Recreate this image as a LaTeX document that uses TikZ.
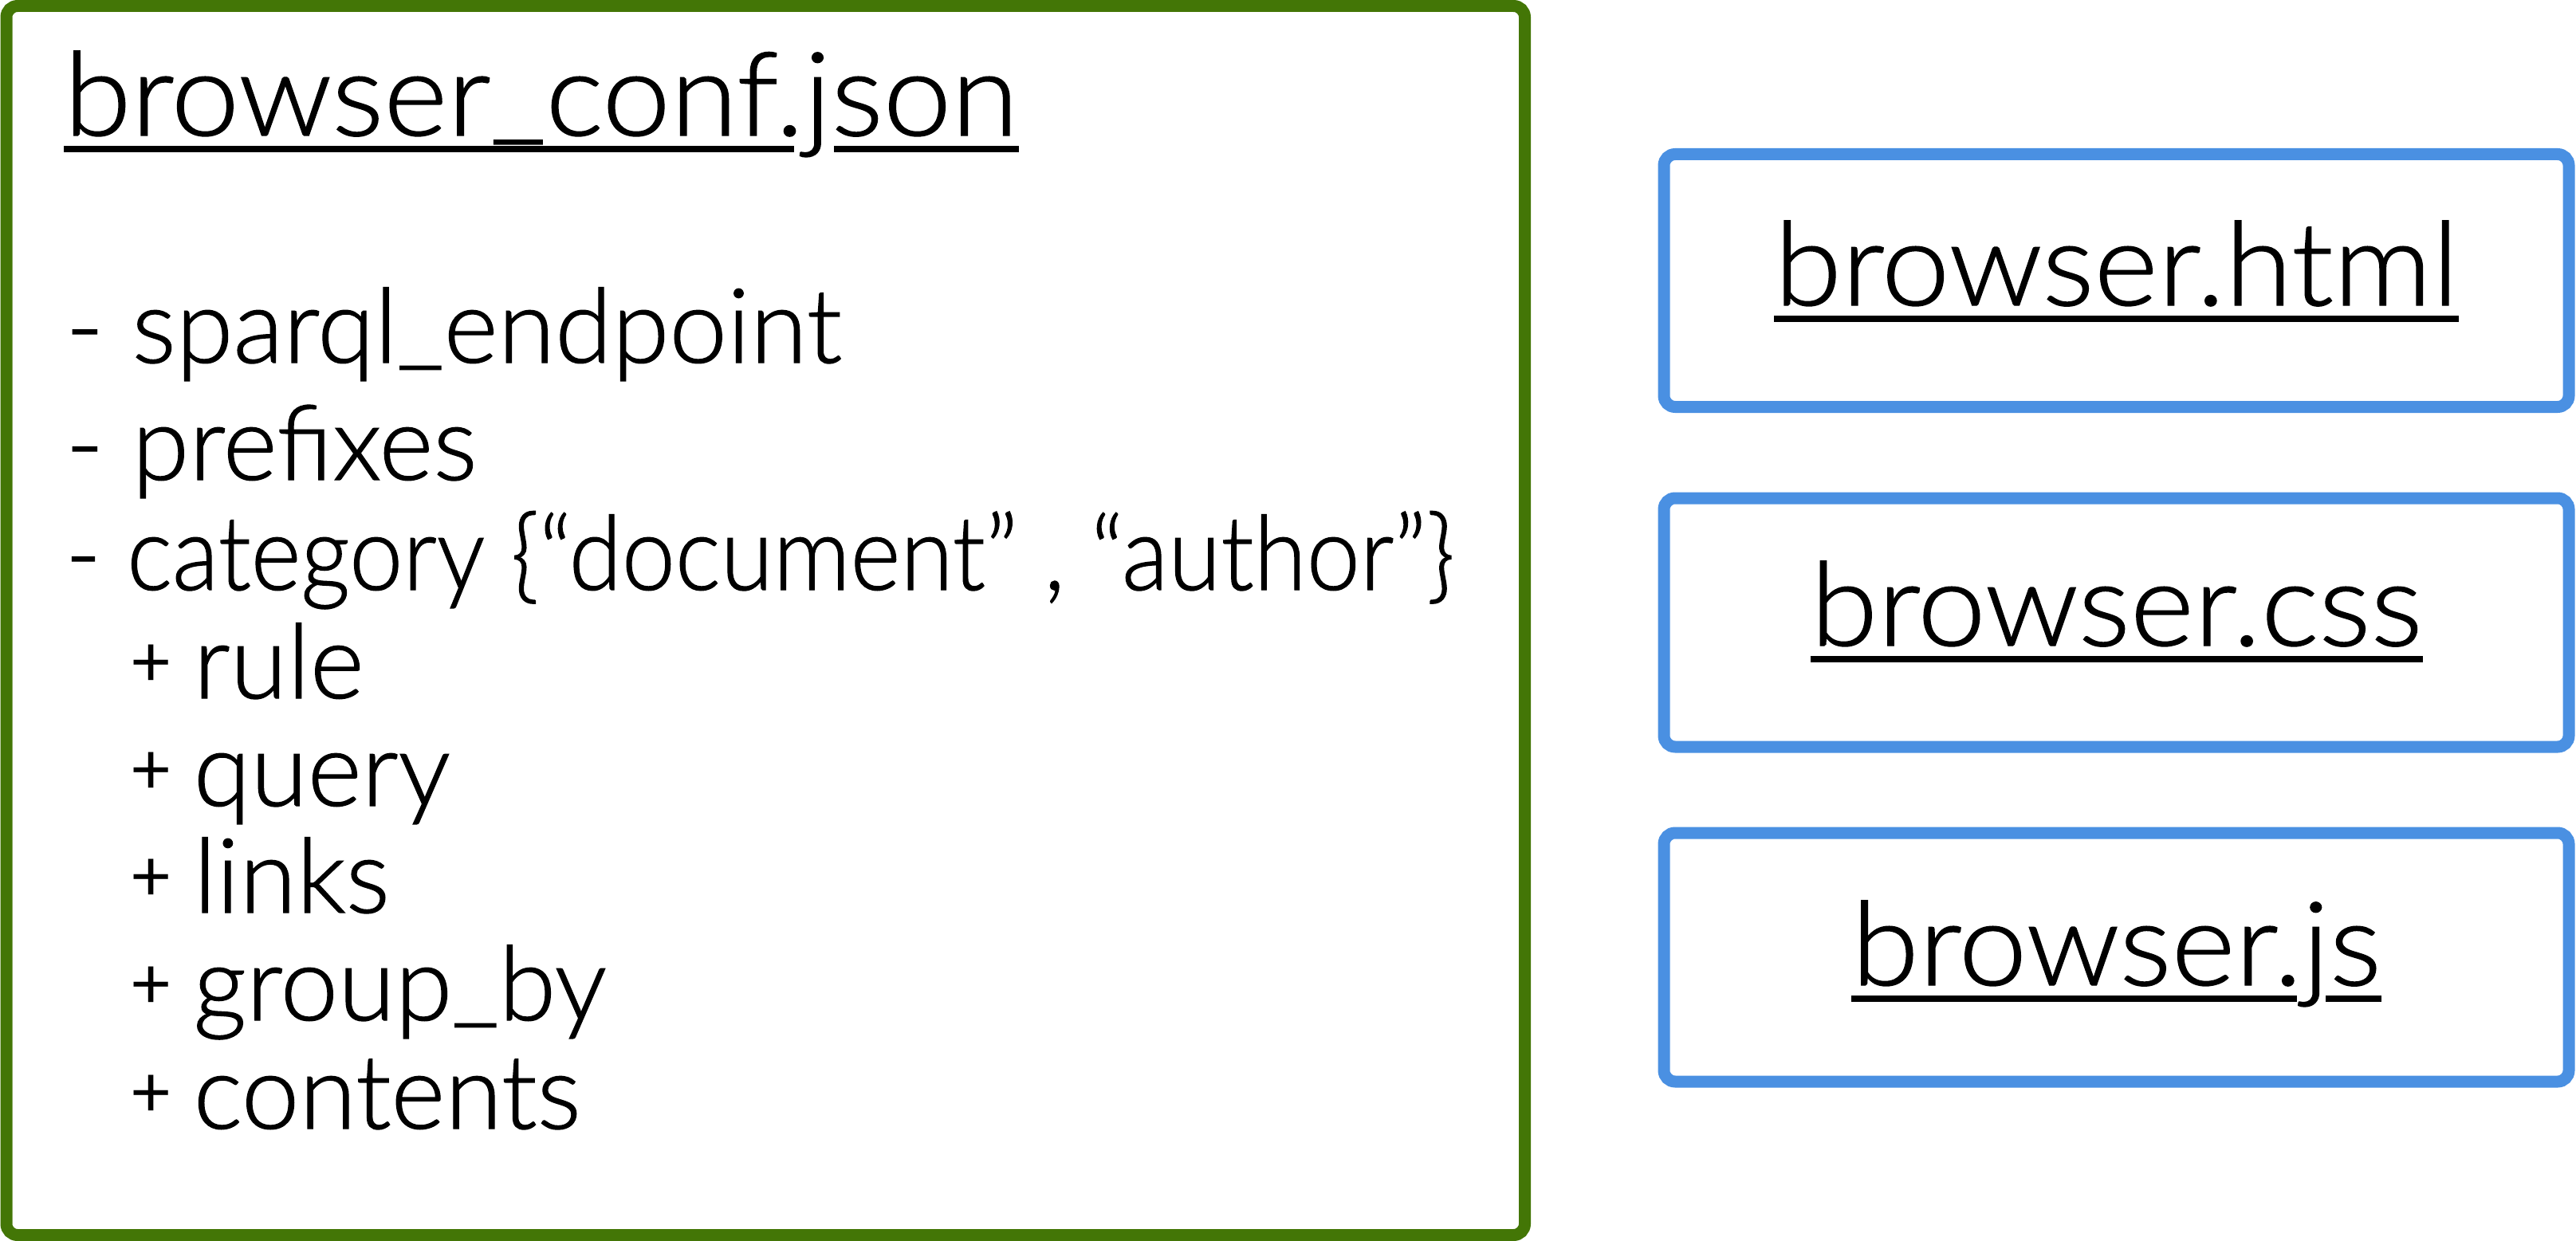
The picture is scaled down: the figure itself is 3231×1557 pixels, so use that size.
\documentclass[tikz,border=0pt]{standalone}
\usepackage{fontspec}
\usetikzlibrary{backgrounds}
\IfFontExistsTF{Lato Light}{%
  \newfontfamily\bigfam{Lato Light}[FakeStretch=1.05, FakeBold=1]%
  \newfontfamily\listfam{Lato Light}[FakeBold=1]%
}{%
  \newfontfamily\bigfam{Lato}[FakeStretch=1.05]%
  \newfontfamily\listfam{Lato}%
}
\newfontfamily\plusfam{Lato}
\newcommand\bigsize{\bigfam\fontsize{146}{146}\selectfont}
\newcommand\listsize{\listfam\fontsize{130}{130}\selectfont}
\newcommand\usc{\raisebox{9pt}{\_}}
\newcommand\pls{\raisebox{15pt}{\plusfam\fontsize{90}{90}\selectfont +}\kern-8pt}
\newlength\jposA
\newlength\jposB
\definecolor{gboxc}{RGB}{67,118,6}
\definecolor{bboxc}{RGB}{74,144,226}
\begin{document}
{\bigsize\settowidth\jposA{browser\usc conf.}\global\jposA=\jposA
 \settowidth\jposB{browser.}\global\jposB=\jposB}
\begin{tikzpicture}[x=1pt,y=-1pt,
  bluebox/.style={draw=bboxc, line width=15pt, rounded corners=14pt, minimum width=1135pt, inner sep=0pt},
  bigtxt/.style={inner sep=0pt, font=\bigsize},
  listtxt/.style={inner sep=0pt, anchor=base west, font=\listsize},
  uline/.style={line width=8pt}]
\useasboundingbox (0,0) rectangle (3231,1557);
\node[draw=gboxc, line width=15pt, rounded corners=14pt, inner sep=0pt, minimum width=1904.5pt, minimum height=1542pt] (conf) at (960.25,778.5) {};
\node[bluebox, minimum height=317pt] (html) at (2654.5,352) {};
\node[bluebox, minimum height=312pt] (css) at (2654.5,781) {};
\node[bluebox, minimum height=312pt] (js) at (2654.5,1201) {};
% text nodes
\node[bigtxt, anchor=base west] (title) at (80,170) {browser\usc conf.json};
\node[bigtxt, anchor=base] (htmlt) at (2654.5,383) {browser.html};
\node[bigtxt, anchor=base] (csst) at (2654.5,810) {browser.css};
\node[bigtxt, anchor=base] (jst) at (2654.5,1236) {browser.js};
% underlines behind the text, interrupted round the descender of the j
\begin{scope}[on background layer]
\foreach \n in {title,htmlt,csst,jst}
  \draw[uline] ([yshift=-17pt]\n.base west) -- ([yshift=-17pt]\n.base east);
\fill[white] ([xshift=\jposA-12pt, yshift=-11pt]title.base west) rectangle ([xshift=\jposA+38pt, yshift=-23pt]title.base west);
\fill[white] ([xshift=\jposB-6pt, yshift=-11pt]jst.base west) rectangle ([xshift=\jposB+30pt, yshift=-23pt]jst.base west);
\end{scope}
% list
\node[listtxt] (l1) at (82,455) {- sparql\usc endpoint};
\node[listtxt] (l2) at (82,602) {- prefixes};
\node[listtxt] (l3) at (82,740) {\scalebox{0.925}[1]{- category \{“document” , “author”\}}};
\node[listtxt] (l4) at (163,876) {\pls\ rule};
\node[listtxt] (l5) at (163,1011) {\pls\ query};
\node[listtxt] (l6) at (163,1145) {\pls\ links};
\node[listtxt] (l7) at (163,1280) {\pls\ group\usc by};
\node[listtxt] (l8) at (163,1416) {\pls\ contents};
\end{tikzpicture}
\end{document}
